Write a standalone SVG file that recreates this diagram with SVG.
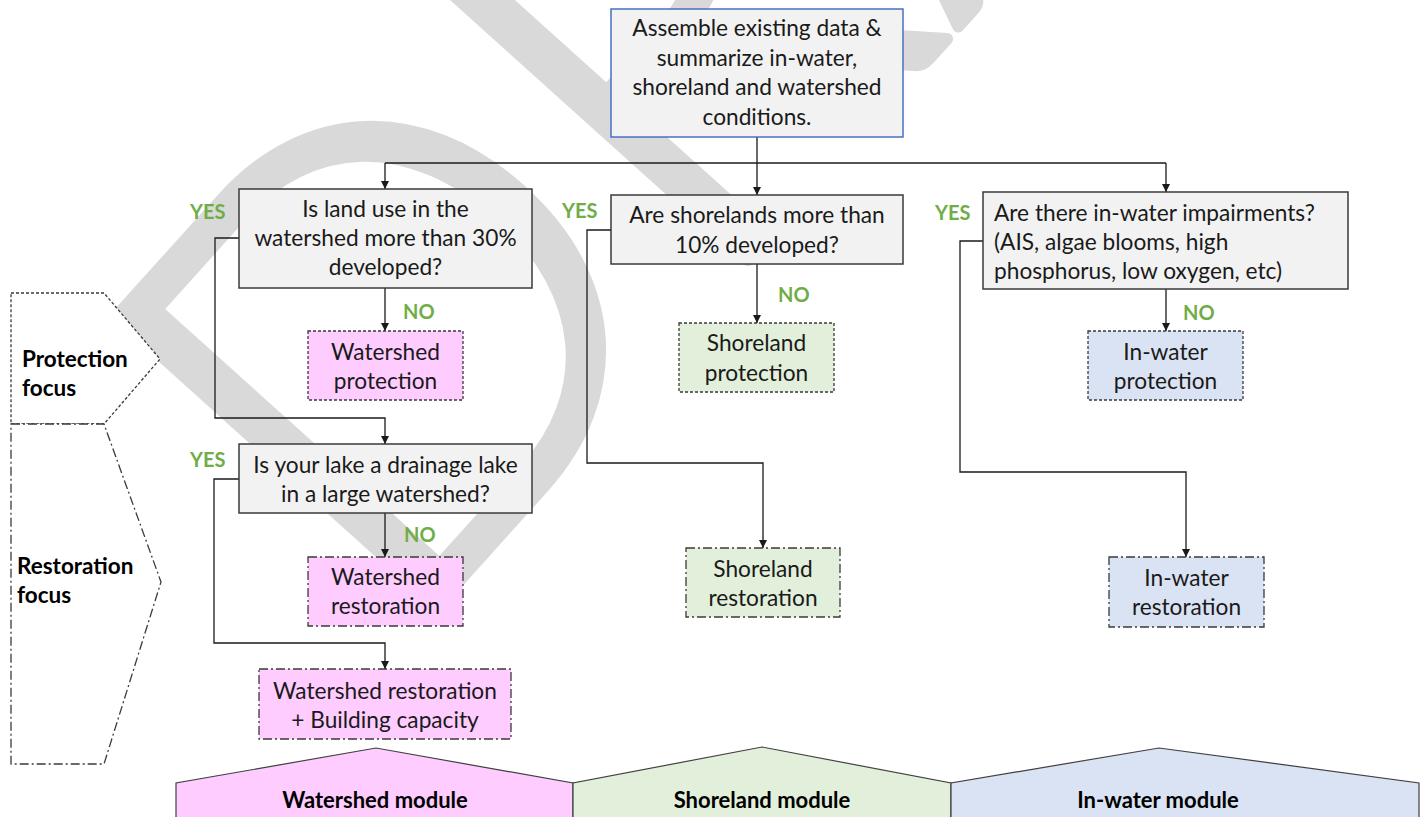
<svg xmlns="http://www.w3.org/2000/svg" width="1423" height="817" viewBox="0 0 1423 817">
<style>
.t{font-family:Lato,"Liberation Sans",sans-serif;font-size:22.7px;fill:#1a1a1a}
.c{text-anchor:middle}
.g{font-family:Lato,"Liberation Sans",sans-serif;font-size:20px;font-weight:bold;fill:#70ad47}
.b{font-family:Lato,"Liberation Sans",sans-serif;font-size:22.5px;font-weight:bold;fill:#000}
.m{font-family:Lato,"Liberation Sans",sans-serif;font-size:22px;font-weight:bold;fill:#000;text-anchor:middle}
.q{fill:#f2f2f2;stroke:#3a3a3a;stroke-width:1.5}
.p{stroke:#3a3a3a;stroke-width:1.3;stroke-dasharray:3,2}
.r{stroke:#3a3a3a;stroke-width:1.3;stroke-dasharray:9,3,2,3}
.pk{fill:#ffccff}.gr{fill:#e2efda}.bl{fill:#dae3f3}
.k{fill:none;stroke:#1a1a1a;stroke-width:1.3}
</style>
<defs>
<marker id="a" markerUnits="userSpaceOnUse" markerWidth="9" markerHeight="9" refX="8" refY="4" orient="auto"><path d="M0,0 L8,4 L0,8 z" fill="#1a1a1a"/></marker>
</defs>
<rect width="1423" height="817" fill="#fff"/>
<g id="watermark"><text transform="translate(395,652) rotate(-48)" font-family="Lato,'Liberation Sans',sans-serif" font-size="610" font-weight="300" fill="#d9d9d9" stroke="#d9d9d9" stroke-width="12" stroke-linejoin="round">DRAFT</text></g>
<g id="modules">
<polygon class="pk" points="176,818 176,783 376,748 573,783 573,818" stroke="#404040" stroke-width="1.2"/>
<polygon class="gr" points="573,818 573,783 762,747 951,783 951,818" stroke="#404040" stroke-width="1.2"/>
<polygon class="bl" points="951,818 951,783 1159,748 1419,783 1419,818" stroke="#404040" stroke-width="1.2"/>
<text class="m" x="375" y="808">Watershed module</text>
<text class="m" x="762" y="808">Shoreland module</text>
<text class="m" x="1158" y="808">In-water module</text>
</g>
<g id="focus">
<polygon points="11,293 104,293 160,359 104,424 11,424" fill="#fff" class="p"/>
<polygon points="11,424 104,424 161,582 104,764 11,764" fill="#fff" class="r"/>
<text class="b" x="22" y="367">Protection</text>
<text class="b" x="22" y="396">focus</text>
<text class="b" x="17" y="574">Restoration</text>
<text class="b" x="17" y="603">focus</text>
</g>
<g id="connectors">
<path class="k" d="M757,137 V195" marker-end="url(#a)"/>
<path class="k" d="M385,163 H1166"/>
<path class="k" d="M385,163 V189" marker-end="url(#a)"/>
<path class="k" d="M1166,163 V192" marker-end="url(#a)"/>
<path class="k" d="M385,288 V331" marker-end="url(#a)"/>
<path class="k" d="M239,238 H215 V418 H385 V444" marker-end="url(#a)"/>
<path class="k" d="M757,264 V323" marker-end="url(#a)"/>
<path class="k" d="M611,230 H587 V463 H763 V548" marker-end="url(#a)"/>
<path class="k" d="M1166,289 V331" marker-end="url(#a)"/>
<path class="k" d="M983,241 H960 V472 H1186 V557" marker-end="url(#a)"/>
<path class="k" d="M385,513 V557" marker-end="url(#a)"/>
<path class="k" d="M239,479 H214 V643 H385 V669" marker-end="url(#a)"/>
</g>
<g id="start">
<rect x="611" y="9" width="292" height="128" fill="#f2f2f2" stroke="#4472c4" stroke-width="1.5"/>
<text class="t c" x="757" y="36">Assemble existing data &amp;</text>
<text class="t c" x="757" y="66">summarize in-water,</text>
<text class="t c" x="757" y="95">shoreland and watershed</text>
<text class="t c" x="757" y="125">conditions.</text>
</g>
<g id="q-landuse">
<rect class="q" x="239" y="189" width="293" height="99"/>
<text class="t c" x="385.5" y="217">Is land use in the</text>
<text class="t c" x="385.5" y="246">watershed more than 30%</text>
<text class="t c" x="385.5" y="275">developed?</text>
<text class="g" x="190" y="219">YES</text>
<text class="g" x="403" y="319">NO</text>
</g>
<g id="q-shoreland">
<rect class="q" x="611" y="195" width="292" height="69"/>
<text class="t c" x="757" y="223">Are shorelands more than</text>
<text class="t c" x="757" y="253">10% developed?</text>
<text class="g" x="562" y="218">YES</text>
<text class="g" x="778" y="302">NO</text>
</g>
<g id="q-inwater">
<rect class="q" x="983" y="192" width="365" height="97"/>
<text class="t" x="994" y="221">Are there in-water impairments?</text>
<text class="t" x="994" y="250">(AIS, algae blooms, high</text>
<text class="t" x="994" y="279">phosphorus, low oxygen, etc)</text>
<text class="g" x="935" y="220">YES</text>
<text class="g" x="1183" y="320">NO</text>
</g>
<g id="q-drainage">
<rect class="q" x="239" y="444" width="293" height="69"/>
<text class="t c" x="385.5" y="473">Is your lake a drainage lake</text>
<text class="t c" x="385.5" y="502">in a large watershed?</text>
<text class="g" x="190" y="467">YES</text>
<text class="g" x="404" y="542">NO</text>
</g>
<g id="watershed-protection">
<rect class="pk p" x="308" y="331" width="155" height="69"/>
<text class="t c" x="385.5" y="360">Watershed</text>
<text class="t c" x="385.5" y="389">protection</text>
</g>
<g id="shoreland-protection">
<rect class="gr p" x="679" y="323" width="155" height="69"/>
<text class="t c" x="756.5" y="351">Shoreland</text>
<text class="t c" x="756.5" y="381">protection</text>
</g>
<g id="inwater-protection">
<rect class="bl p" x="1088" y="331" width="155" height="69"/>
<text class="t c" x="1165.5" y="360">In-water</text>
<text class="t c" x="1165.5" y="389">protection</text>
</g>
<g id="watershed-restoration">
<rect class="pk r" x="308" y="557" width="155" height="69"/>
<text class="t c" x="385.5" y="585">Watershed</text>
<text class="t c" x="385.5" y="614">restoration</text>
</g>
<g id="watershed-restoration-capacity">
<rect class="pk r" x="259" y="669" width="252" height="70"/>
<text class="t c" x="385" y="699">Watershed restoration</text>
<text class="t c" x="385" y="728">+ Building capacity</text>
</g>
<g id="shoreland-restoration">
<rect class="gr r" x="686" y="548" width="154" height="69"/>
<text class="t c" x="763" y="577">Shoreland</text>
<text class="t c" x="763" y="606">restoration</text>
</g>
<g id="inwater-restoration">
<rect class="bl r" x="1109" y="557" width="155" height="70"/>
<text class="t c" x="1186.5" y="586">In-water</text>
<text class="t c" x="1186.5" y="615">restoration</text>
</g>
</svg>
